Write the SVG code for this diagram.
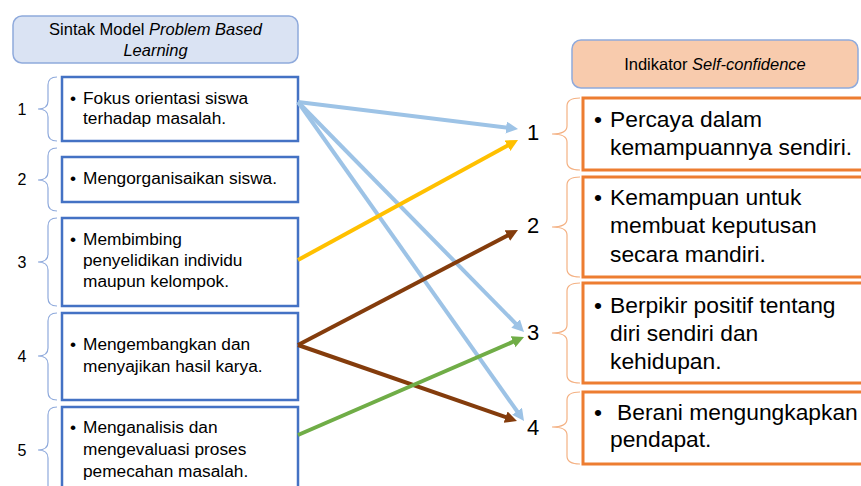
<svg xmlns="http://www.w3.org/2000/svg" width="861" height="486" viewBox="0 0 861 486">
<defs>
<style>
text{font-family:"Liberation Sans",Arial,sans-serif;fill:#000}
.hdrL{fill:#dae3f3;stroke:#8faadc;stroke-width:1.5}
.hdrR{fill:#f8cbad;stroke:#8faadc;stroke-width:1.5}
.hd{font-size:16.5px}
.boxL{fill:#fff;stroke:#4472c4;stroke-width:2.5}
.boxR{fill:#fff;stroke:#ed7d31;stroke-width:3}
.tL{font-size:17.3px}
.tR{font-size:22.8px}
.nL{font-size:16px;text-anchor:middle}
.nR{font-size:22px;text-anchor:middle}
.brL{fill:none;stroke:#8faadc;stroke-width:1.2}
.brR{fill:none;stroke:#f4b183;stroke-width:1.2}
.cn{fill:none;stroke-width:4}
</style>
<marker id="mBlue" markerUnits="userSpaceOnUse" markerWidth="14" markerHeight="14" refX="4" refY="6" orient="auto"><path d="M0,0 L12,6 L0,12 z" fill="#9dc3e6"/></marker>
<marker id="mYel" markerUnits="userSpaceOnUse" markerWidth="14" markerHeight="14" refX="4" refY="6" orient="auto"><path d="M0,0 L12,6 L0,12 z" fill="#ffc000"/></marker>
<marker id="mBrn" markerUnits="userSpaceOnUse" markerWidth="14" markerHeight="14" refX="4" refY="6" orient="auto"><path d="M0,0 L12,6 L0,12 z" fill="#843c0c"/></marker>
<marker id="mGrn" markerUnits="userSpaceOnUse" markerWidth="14" markerHeight="14" refX="4" refY="6" orient="auto"><path d="M0,0 L12,6 L0,12 z" fill="#70ad47"/></marker>
</defs>
<rect width="861" height="486" fill="#fff"/>

<g id="header-left">
<rect class="hdrL" x="13" y="16" width="285" height="47" rx="9"/>
<text class="hd" x="155.5" y="35" text-anchor="middle">Sintak Model <tspan font-style="italic">Problem Based</tspan></text>
<text class="hd" x="155.5" y="56" text-anchor="middle" font-style="italic">Learning</text>
</g>

<g id="header-right">
<rect class="hdrR" x="572" y="40" width="286" height="48" rx="9"/>
<text class="hd" x="715" y="70" text-anchor="middle">Indikator <tspan font-style="italic">Self-confidence</tspan></text>
</g>

<g id="step-1">
<text class="nL" x="22" y="115">1</text>
<path class="brL" d="M57,77 Q48,77 48,85 L48,101 Q48,109 38,109 Q48,109 48,117 L48,133 Q48,141 57,141"/>
<rect class="boxL" x="62" y="77" width="236" height="64"/>
<text class="tL" x="70" y="104">•</text>
<text class="tL" x="83" y="104">Fokus orientasi siswa</text>
<text class="tL" x="83" y="124">terhadap masalah.</text>
</g>

<g id="step-2">
<text class="nL" x="22" y="185">2</text>
<path class="brL" d="M57,148 Q48,148 48,156 L48,172 Q48,180 38,180 Q48,180 48,188 L48,203 Q48,211 57,211"/>
<rect class="boxL" x="62" y="157" width="236" height="45"/>
<text class="tL" x="70" y="184">•</text>
<text class="tL" x="83" y="184">Mengorganisaikan siswa.</text>
</g>

<g id="step-3">
<text class="nL" x="22" y="268">3</text>
<path class="brL" d="M57,218 Q48,218 48,226 L48,254 Q48,262 38,262 Q48,262 48,270 L48,298 Q48,306 57,306"/>
<rect class="boxL" x="62" y="218" width="236" height="88"/>
<text class="tL" x="70" y="245">•</text>
<text class="tL" x="83" y="245">Membimbing</text>
<text class="tL" x="83" y="266">penyelidikan individu</text>
<text class="tL" x="83" y="287">maupun kelompok.</text>
</g>

<g id="step-4">
<text class="nL" x="22" y="362">4</text>
<path class="brL" d="M57,313 Q48,313 48,321 L48,348 Q48,356 38,356 Q48,356 48,364 L48,392 Q48,400 57,400"/>
<rect class="boxL" x="62" y="313" width="236" height="87"/>
<text class="tL" x="70" y="350">•</text>
<text class="tL" x="83" y="350">Mengembangkan dan</text>
<text class="tL" x="83" y="372">menyajikan hasil karya.</text>
</g>

<g id="step-5">
<text class="nL" x="22" y="456">5</text>
<path class="brL" d="M57,407 Q48,407 48,415 L48,442 Q48,450 38,450 Q48,450 48,458 L48,486 Q48,494 57,494"/>
<rect class="boxL" x="62" y="407" width="236" height="90"/>
<text class="tL" x="70" y="433">•</text>
<text class="tL" x="83" y="433">Menganalisis dan</text>
<text class="tL" x="83" y="455">mengevaluasi proses</text>
<text class="tL" x="83" y="477">pemecahan masalah.</text>
</g>

<g id="indicator-1">
<text class="nR" x="533" y="140">1</text>
<path class="brR" d="M580,98 Q567,98 567,106 L567,126 Q567,134 552,134 Q567,134 567,142 L567,162 Q567,170 580,170"/>
<rect class="boxR" x="583" y="98" width="290" height="72"/>
<text class="tR" x="594" y="127">•</text>
<text class="tR" x="610" y="127">Percaya dalam</text>
<text class="tR" x="610" y="155">kemampuannya sendiri.</text>
</g>

<g id="indicator-2">
<text class="nR" x="533" y="233">2</text>
<path class="brR" d="M580,177 Q567,177 567,185 L567,219 Q567,227 552,227 Q567,227 567,235 L567,269 Q567,277 580,277"/>
<rect class="boxR" x="583" y="177" width="290" height="100"/>
<text class="tR" x="594" y="205">•</text>
<text class="tR" x="610" y="205">Kemampuan untuk</text>
<text class="tR" x="610" y="233">membuat keputusan</text>
<text class="tR" x="610" y="262">secara mandiri.</text>
</g>

<g id="indicator-3">
<text class="nR" x="533" y="340">3</text>
<path class="brR" d="M580,283 Q567,283 567,291 L567,325 Q567,333 552,333 Q567,333 567,341 L567,375 Q567,383 580,383"/>
<rect class="boxR" x="583" y="283" width="290" height="100"/>
<text class="tR" x="594" y="313">•</text>
<text class="tR" x="610" y="313">Berpikir positif tentang</text>
<text class="tR" x="610" y="341">diri sendiri dan</text>
<text class="tR" x="610" y="369">kehidupan.</text>
</g>

<g id="indicator-4">
<text class="nR" x="533" y="435">4</text>
<path class="brR" d="M580,392 Q567,392 567,400 L567,419 Q567,427 552,427 Q567,427 567,435 L567,456 Q567,464 580,464"/>
<rect class="boxR" x="583" y="392" width="290" height="72"/>
<text class="tR" x="594" y="420">•</text>
<text class="tR" x="617" y="420">Berani mengungkapkan</text>
<text class="tR" x="610" y="447">pendapat.</text>
</g>

<g id="connectors">
<line class="cn" stroke="#9dc3e6" x1="298" y1="102" x2="510.1" y2="128" marker-end="url(#mBlue)"/>
<line class="cn" stroke="#9dc3e6" x1="298" y1="102" x2="518.4" y2="326.3" marker-end="url(#mBlue)"/>
<line class="cn" stroke="#9dc3e6" x1="298" y1="102" x2="519.4" y2="414.5" marker-end="url(#mBlue)"/>
<line class="cn" stroke="#ffc000" x1="298" y1="260" x2="511" y2="143.8" marker-end="url(#mYel)"/>
<line class="cn" stroke="#843c0c" x1="298" y1="345" x2="510.9" y2="233.7" marker-end="url(#mBrn)"/>
<line class="cn" stroke="#843c0c" x1="298" y1="345" x2="509.4" y2="418.4" marker-end="url(#mBrn)"/>
<line class="cn" stroke="#70ad47" x1="298" y1="435" x2="516.7" y2="340.2" marker-end="url(#mGrn)"/>
</g>
</svg>
